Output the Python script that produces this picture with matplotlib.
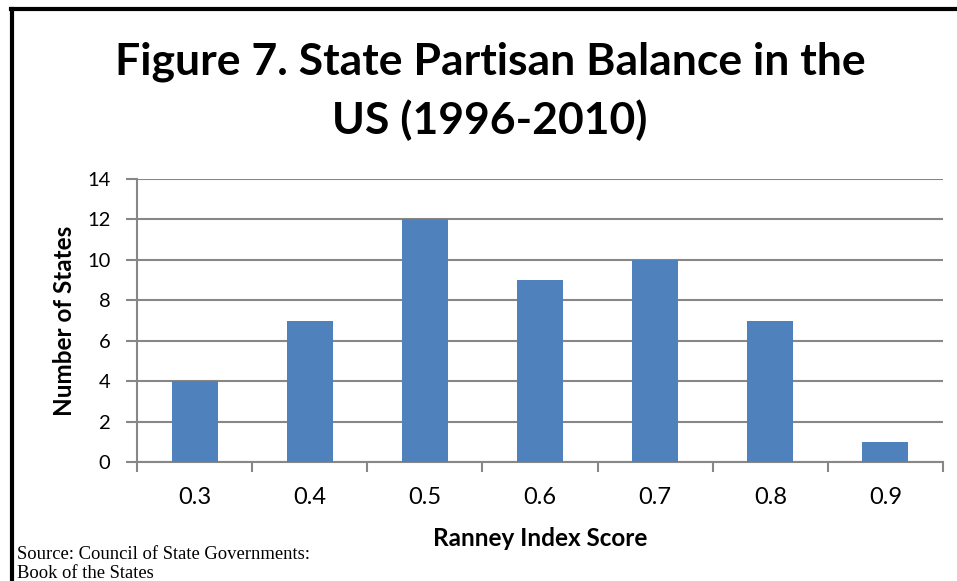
import matplotlib

matplotlib.use("Agg")
import matplotlib.pyplot as plt
import numpy as np

# data
scores = ["0.3", "0.4", "0.5", "0.6", "0.7", "0.8", "0.9"]
num_states = [4, 7, 12, 9, 10, 7, 1]
y_ticks = [0, 2, 4, 6, 8, 10, 12, 14]

bar_color = "#4F81BD"
grid_color = "#878787"
font = ["Lato", "DejaVu Sans"]

fig = plt.figure(figsize=(9.57, 5.81), dpi=100)
W, H = 957, 581
ax = fig.add_axes([137 / W, 1 - 462 / H, (943 - 137) / W, (462 - 179) / H])

x = np.arange(len(scores))
ax.bar(x, num_states, width=0.4, color=bar_color, zorder=3)

ax.set_xlim(-0.5, len(scores) - 0.5)
ax.set_ylim(0, 14)
ax.set_yticks(y_ticks)
ax.set_yticklabels([str(v) for v in y_ticks], fontsize=14.5, family=font)
ax.set_xticks(x)
ax.set_xticklabels(scores, fontsize=17, family=font)
ax.set_xticks(np.arange(len(scores) + 1) - 0.5, minor=True)
ax.tick_params(axis="x", which="major", length=0, pad=18)
ax.tick_params(axis="x", which="minor", length=7, width=1.5, color=grid_color)
ax.tick_params(axis="y", length=8, width=1.5, color=grid_color, pad=11)

ax.grid(axis="y", color=grid_color, linewidth=1.5, zorder=0)
for side in ("top", "right"):
    ax.spines[side].set_visible(False)
for side in ("left", "bottom"):
    ax.spines[side].set_color(grid_color)
    ax.spines[side].set_linewidth(1.5)

ax.set_ylabel("Number of States", fontsize=17.5, fontweight="bold", family=font, labelpad=8)
ax.set_xlabel("Ranney Index Score", fontsize=17.5, fontweight="bold", family=font, labelpad=14)

fig.text(490 / W, 1 - 62 / H, "Figure 7. State Partisan Balance in the",
         ha="center", va="center", fontsize=32, fontweight="bold", family=font)
fig.text(490 / W, 1 - 120 / H, "US (1996-2010)",
         ha="center", va="center", fontsize=32, fontweight="bold", family=font)
fig.text(17 / W, 1 - 564 / H, "Source: Council of State Governments:\nBook of the States",
         ha="left", va="center", fontsize=13.4, family="Liberation Serif", linespacing=1.2)

# frame lines on left and top
fig.add_artist(plt.Line2D([12 / W, 12 / W], [0, 1 - 9 / H], color="black", linewidth=3,
                          transform=fig.transFigure))
fig.add_artist(plt.Line2D([11 / W, 1], [1 - 9 / H, 1 - 9 / H], color="black", linewidth=3,
                          transform=fig.transFigure))

fig.savefig("out.png", dpi=100)
